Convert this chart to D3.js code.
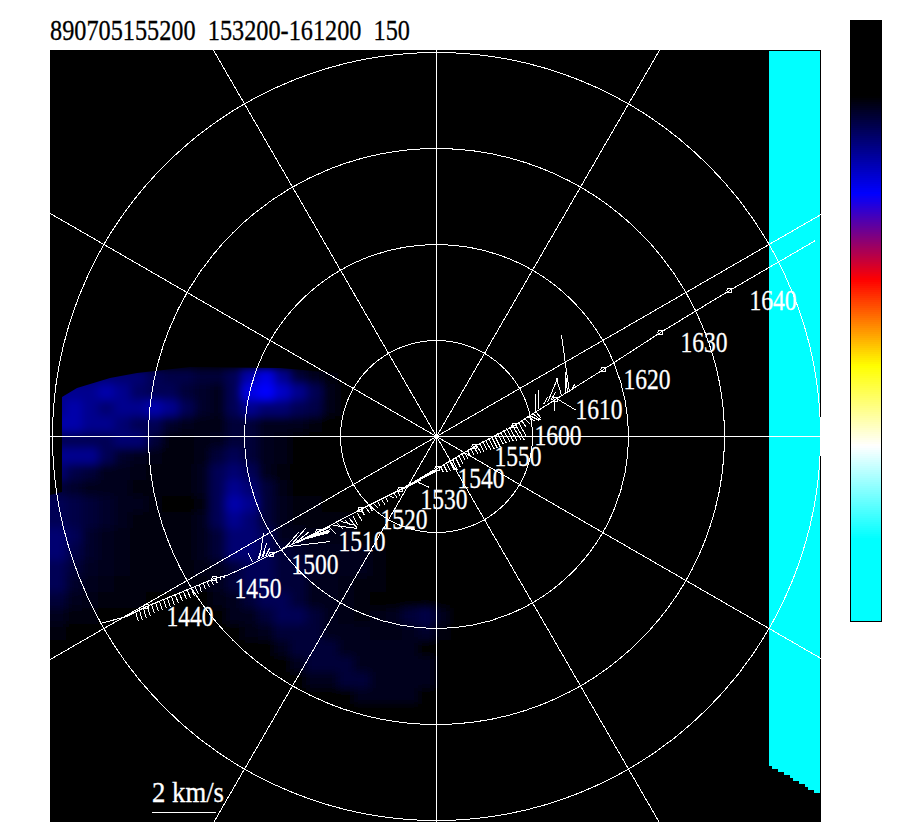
<!DOCTYPE html>
<html><head><meta charset="utf-8">
<script src="https://cdn.jsdelivr.net/npm/d3@7"></script>
<style>
html,body{margin:0;padding:0;background:#fff}
svg{display:block}
text{font-family:"Liberation Serif",serif;white-space:pre}
</style></head><body>
<svg id="c" width="900" height="840"></svg>
<script>
// ---- data: velocities in units of 1/32 km/s, relative to the plot centre ----
const titleText = "890705155200  153200-161200  150";
const ringRadii = [96,192,288,384];
const spokeAngles = [0,30,60,90,120,150];
const scaleBarUnits = 64, scaleBarLabel = "2 km/s";
const trackU = [-336,-310,-290,-222,-210,-194,-165,-118,-76,-36,1,38,78,119,167,224,293,379];
const trackV = [-187,-180,-170,-142,-139,-132,-118,-95,-73,-53,-32,-10,11,37,67,104,146,196];
const timeLabels = ["1440","1450","1500","1510","1520","1530","1540","1550","1600","1610","1620","1630","1640"];
const timeU = [-290,-222,-165,-118,-76,-36,1,38,78,119,167,224,293];
const timeV = [-170,-142,-118,-95,-73,-53,-32,-10,11,37,67,104,146];
// wind hairs: base (U,V) and vector (dU,dV)
const hairU = [-301,-297,-293,-289,-285,-281,-277,-273,-269,-265,-261,-257,-253,-249,-245,-241,-237,-233,-229,-225,-221,-217,-213,
 -184,-179,-177,-175,-173,-171,
 -155,-151,-148,-145,-142,-139,-136,-133,-130,-127,-124,-121,-118,
 -112,-107,-103,-99,-95,-91,-87,-83,-79,-75,-71,-67,-63,-59,-55,-51,-47,-43,-39,
 -35,-31,-27,-23,-19,-18,-15,-11,-7,-3,
 4,7,10,13,16,19,22,25,28,31,34,37,40,43,46,49,52,55,58,61,64,67,70,73,76,79,82,85,88,91,
 93,96,99,99,102,107,111,114,118,120,125,129,131,133,135];
const hairV = [-175,-174,-172,-170,-168,-166,-165,-163,-162,-160,-159,-157,-155,-154,-152,-151,-149,-147,-146,-144,-143,-141,-140,
 -126,-124,-123,-122,-121,-120,
 -113,-111,-110,-108,-107,-106,-104,-103,-101,-100,-99,-97,-95,
 -93,-91,-89,-87,-85,-84,-82,-80,-77,-73,-71,-69,-67,-65,-63,-61,-59,-56,-55,
 -53,-50,-48,-46,-44,-46,-42,-40,-37,-35,
 -30,-28,-26,-24,-23,-21,-19,-17,-16,-14,-12,-10,-9,-7,-5,-4,-2,0,1,3,4,6,8,9,11,12,14,16,18,20,
 21,23,25,26,28,32,34,36,38,38,41,43,44,44,46];
const hairDU = [3,3,3,3,3,3,3,3,3,3,3,3,3,3,3,3,2,2,2,2,2,2,1,
 -4,4,4,5,2,4,
 8,13,42,14,15,20,25,26,24,20,18,14,12,
 3,7,24,6,14,5,8,4,5,3,5,3,5,3,4,3,5,4,3,
 20,22,25,24,20,11,15,12,8,4,
 3,4,4,5,5,5,5,4,4,3,4,5,5,5,5,6,6,6,6,6,6,7,7,8,9,9,8,5,6,8,
 10,9,6,0,0,4,10,5,0,20,-5,0,-2,-8,3];
const hairDV = [-10,-10,-10,-10,-9,-9,-9,-9,-9,-9,-8,-8,-8,-8,-8,-7,-7,-6,-5,-5,-4,-3,-2,
 9,12,26,15,12,8,
 6,15,5,16,12,10,9,7,6,6,6,6,5,
 -1,-7,-3,-6,-4,-5,-10,-9,-8,-6,-6,-6,-5,-5,-6,-5,-3,-6,-5,
 10,12,15,14,12,-5,7,6,4,1,
 -6,-8,-9,-10,-11,-10,-9,-7,-7,-6,-7,-8,-8,-9,-9,-10,-11,-12,-12,-11,-11,-12,-13,-14,-15,-16,-14,-7,-6,-5,
 -5,-7,-7,17,19,7,24,8,-12,-12,17,21,20,57,6];
// background intensity grid (0 = black .. 9 = full blue), rows 16 units apart
const heatRow0 = [4,4,4,4,4,4,3,2.5,2.5,2,2,3,6,8,5,2,1,.5,0,0,0,0,0,0,0];
const heatRow1 = [5,5,5,6,5,3.5,3,3,2,1.5,1,3,8,9,7,5,3,.7,0,0,0,0,0,0,0];
const heatRow2 = [5,6,5,4,5,5,6,5,3,1.5,1,3,5,4,4,3,2.5,.7,0,0,0,0,0,0,0];
const heatRow3 = [6,6,5,5,4,3,3,1.5,1,.7,.7,2,2,1,1,1,.5,0,0,0,0,0,0,0,0];
const heatRow4 = [3,3,3,3,4,4,2,.5,.3,.7,1,2,2,1,.7,0,0,0,0,0,0,0,0,0,0];
const heatRow5 = [5,5,5,3,1.5,1,.7,.3,.3,.7,2,3,2,1,.7,0,0,0,0,0,0,0,0,0,0];
const heatRow6 = [4,2.5,2,1,1,.7,.5,.3,.3,1,3,4,3,1,.5,0,0,0,0,0,0,0,0,0,0];
const heatRow7 = [2,1.5,1,1,1,.5,.3,.3,.3,1,3,5,4,2,.7,0,0,0,0,0,0,0,0,0,0];
const heatRow8 = [3,2.5,2,1.5,1,1,.5,0,0,.5,3,6,5,2,1,.5,.5,0,0,0,0,0,0,0,0];
const heatRow9 = [3,2.5,2,1.5,1,.5,.5,.3,.3,1,3,5,4,2,1,.5,.5,.5,.5,0,0,0,0,0,0];
const heatRow10= [4,3,1.5,1,.7,.5,.5,.3,.3,1,2,4,4,3,1,1,.7,.7,.7,0,0,0,0,0,0];
const heatRow11= [4,2.5,1.5,1,.7,.5,.5,.5,.5,1,2,4,4,3,2,1.5,1,1,1,1,.5,0,0,0,0];
const heatRow12= [3,2,1.2,1,.7,.5,.5,.5,.5,.7,1,2,3,3,2,2,1.5,1,1,1,.5,0,0,0,0];
const heatRow13= [3,1.5,1,.7,.5,.5,.5,.3,.3,.5,1,2,3,3,2,2,1,1,.7,.5,.3,0,0,0,0];
const heatRow14= [2,1,.7,.5,.3,.3,.2,.2,0,0,.7,1,2,3,3,2,1,1,.7,.3,0,0,0,0,0];
const heatRow15= [1,.5,.3,0,0,0,0,0,0,0,0,1,1,2,3,3,2,1,.7,.5,.7,1,2,2.5,1];
const heatRow16= [.3,.2,0,0,0,0,0,0,0,0,0,0,.7,1,2,2,2,1,1,1,.7,.7,1,1.5,.5];
const heatRow17= [0,0,0,0,0,0,0,0,0,0,0,0,0,0,1,2,2,2,1,1,1,1,1,0,0];
const heatRow18= [0,0,0,0,0,0,0,0,0,0,0,0,0,0,0,1,2,2,2,1,1,1,1,1,0];
const heatRow19= [0,0,0,0,0,0,0,0,0,0,0,0,0,0,0,0,1,1,2,2,1,1,1,1,0];
const heatRow20= [0,0,0,0,0,0,0,0,0,0,0,0,0,0,0,0,0,0,0,1,1,1,1,0,0];
const heatRows = [heatRow0,heatRow1,heatRow2,heatRow3,heatRow4,heatRow5,heatRow6,heatRow7,heatRow8,heatRow9,heatRow10,
 heatRow11,heatRow12,heatRow13,heatRow14,heatRow15,heatRow16,heatRow17,heatRow18,heatRow19,heatRow20];
const heatColU = d3.range(25).map(i=>-386.5+i*16);   // column left edges
const heatRowV = d3.range(21).map(i=>68.5-i*16);     // row top edges
// outline of the sampled region
const edgeU = [-374.5,-359.5,-326.5,-299.5,-246.5,-156.5,-76.5,-26.5,400,400,-386.5,-386.5,-374.5];
const edgeV = [39.5,48.5,58.5,63.5,69.5,68.5,61.5,36.5,-13.5,-300,-300,-58.5,-55.5];
// saturated block on the right: column left edges and bottoms
const blockU = [332.5,335.5,341.5,347.5,353.5,356.5,362.5,368.5,371.5,377.5];
const blockBottom = [-329.5,-332.5,-335.5,-338.5,-341.5,-344.5,-347.5,-350.5,-353.5,-356.5];
const blockRight = 383.5, blockTop = 385.5;
// colour bar
const colorPositions = [0,0.125,0.287,0.43,0.573,0.706,0.86,1];
const colorValues = ["#000000","#000000","#0000ff","#ff0000","#ffff00","#ffffff","#00ffff","#00ffff"];

// ---- scales ----
const x = d3.scaleLinear().domain([-386.5,384.5]).range([50,821]);
const y = d3.scaleLinear().domain([386.5,-385.5]).range([50,822]);
const r = d3.scaleLinear().domain([0,100]).range([0,100]);
const ramp = d3.scaleLinear().domain(colorPositions).range(colorValues).interpolate(d3.interpolateRgb);
const heatPos = d3.scaleLinear().domain([0,9]).range([0.125,0.287]);
const barY = d3.scaleLinear().domain([0,1]).range([20,622]);

const svg = d3.select("#c");
const defs = svg.append("defs");
defs.append("clipPath").attr("id","frame").append("rect")
  .attr("x",x(-386.5)).attr("y",y(386.5)).attr("width",x(384.5)-x(-386.5)).attr("height",y(-385.5)-y(386.5));
defs.append("clipPath").attr("id","edge").append("polygon")
  .attr("points",edgeU.map((u,i)=>x(u)+","+y(edgeV[i])).join(" "));
const blur = defs.append("filter").attr("id","soft").attr("filterUnits","userSpaceOnUse")
  .attr("x",0).attr("y",300).attr("width",600).attr("height",500);
blur.append("feGaussianBlur").attr("stdDeviation",4.5);

// frame
svg.append("rect").attr("x",50).attr("y",50).attr("width",771).attr("height",772).attr("fill","#000");
const plot = svg.append("g").attr("clip-path","url(#frame)");

// heat
const heat = plot.append("g").attr("clip-path","url(#edge)").append("g").attr("filter","url(#soft)");
heatRows.forEach((row,j)=>row.forEach((v,i)=>{
  const left = i===0 ? x(heatColU[i])-20 : x(heatColU[i]);
  heat.append("rect").attr("x",left).attr("y",y(heatRowV[j]))
    .attr("width",x(heatColU[i])+16.5-left).attr("height",16.5)
    .attr("fill",ramp(heatPos(v)));
}));

// saturated block
plot.selectAll("rect.blk").data(blockU).join("rect").attr("class","blk")
  .attr("x",d=>x(d)).attr("y",y(blockTop))
  .attr("width",(d,i)=>x(i+1<blockU.length?blockU[i+1]:blockRight)-x(d))
  .attr("height",(d,i)=>y(blockBottom[i])-y(blockTop))
  .attr("fill","#00ffff").attr("shape-rendering","crispEdges");

// rings and spokes
const grid = plot.append("g").attr("fill","none").attr("stroke","#fff").attr("stroke-width",1).attr("shape-rendering","crispEdges");
grid.selectAll("circle").data(ringRadii).join("circle")
  .attr("cx",x(0)).attr("cy",y(0)).attr("r",d=>r(d));
grid.selectAll("line").data(spokeAngles).join("line")
  .attr("x1",d=>x(-700*Math.cos(d*Math.PI/180))).attr("y1",d=>y(-700*Math.sin(d*Math.PI/180)))
  .attr("x2",d=>x(700*Math.cos(d*Math.PI/180))).attr("y2",d=>y(700*Math.sin(d*Math.PI/180)));

// track
const fg = plot.append("g").attr("fill","none").attr("stroke","#fff").attr("stroke-width",1).attr("shape-rendering","crispEdges");
fg.append("path").attr("d",d3.line().x(d=>x(d[0])).y(d=>y(d[1]))(trackU.map((u,i)=>[u,trackV[i]])));
fg.selectAll("line.hair").data(hairU).join("line").attr("class","hair")
  .attr("x1",d=>x(d)).attr("y1",(d,i)=>y(hairV[i]))
  .attr("x2",(d,i)=>x(d+hairDU[i])).attr("y2",(d,i)=>y(hairV[i]+hairDV[i]));
fg.selectAll("circle").data(timeU).join("circle")
  .attr("cx",d=>x(d)).attr("cy",(d,i)=>y(timeV[i])).attr("r",2.5);

// time labels
plot.selectAll("text.t").data(timeLabels).join("text").attr("class","t")
  .attr("x",(d,i)=>x(timeU[i])+20).attr("y",(d,i)=>y(timeV[i])+19)
  .attr("textLength",47).attr("lengthAdjust","spacingAndGlyphs")
  .attr("font-size",29.5).attr("fill","#fff").attr("stroke","#fff").attr("stroke-width",0.3).text(d=>d);

// scale bar
const barLeft = -284.5;
plot.append("line").attr("x1",x(barLeft)).attr("x2",x(barLeft+scaleBarUnits))
  .attr("y1",y(-376)).attr("y2",y(-376)).attr("stroke","#fff").attr("shape-rendering","crispEdges");
plot.append("text").attr("x",x(barLeft)).attr("y",802).attr("font-size",29.5).attr("fill","#fff").attr("stroke","#fff").attr("stroke-width",0.3)
  .attr("textLength",72).attr("lengthAdjust","spacingAndGlyphs").text(scaleBarLabel);

// title
svg.append("text").attr("x",50).attr("y",40).attr("font-size",29.5).attr("fill","#000").attr("stroke","#000").attr("stroke-width",0.3)
  .attr("textLength",360).attr("lengthAdjust","spacingAndGlyphs").text(titleText);

// colour bar
const cells = d3.range(0,1,1/301);
svg.append("g").selectAll("rect").data(cells).join("rect")
  .attr("x",850).attr("y",d=>barY(d)).attr("width",32).attr("height",2.2)
  .attr("fill",d=>ramp(d)).attr("shape-rendering","crispEdges");
svg.append("rect").attr("x",850.5).attr("y",20.5).attr("width",31).attr("height",601)
  .attr("fill","none").attr("stroke","#000").attr("shape-rendering","crispEdges");
</script>
</body></html>
